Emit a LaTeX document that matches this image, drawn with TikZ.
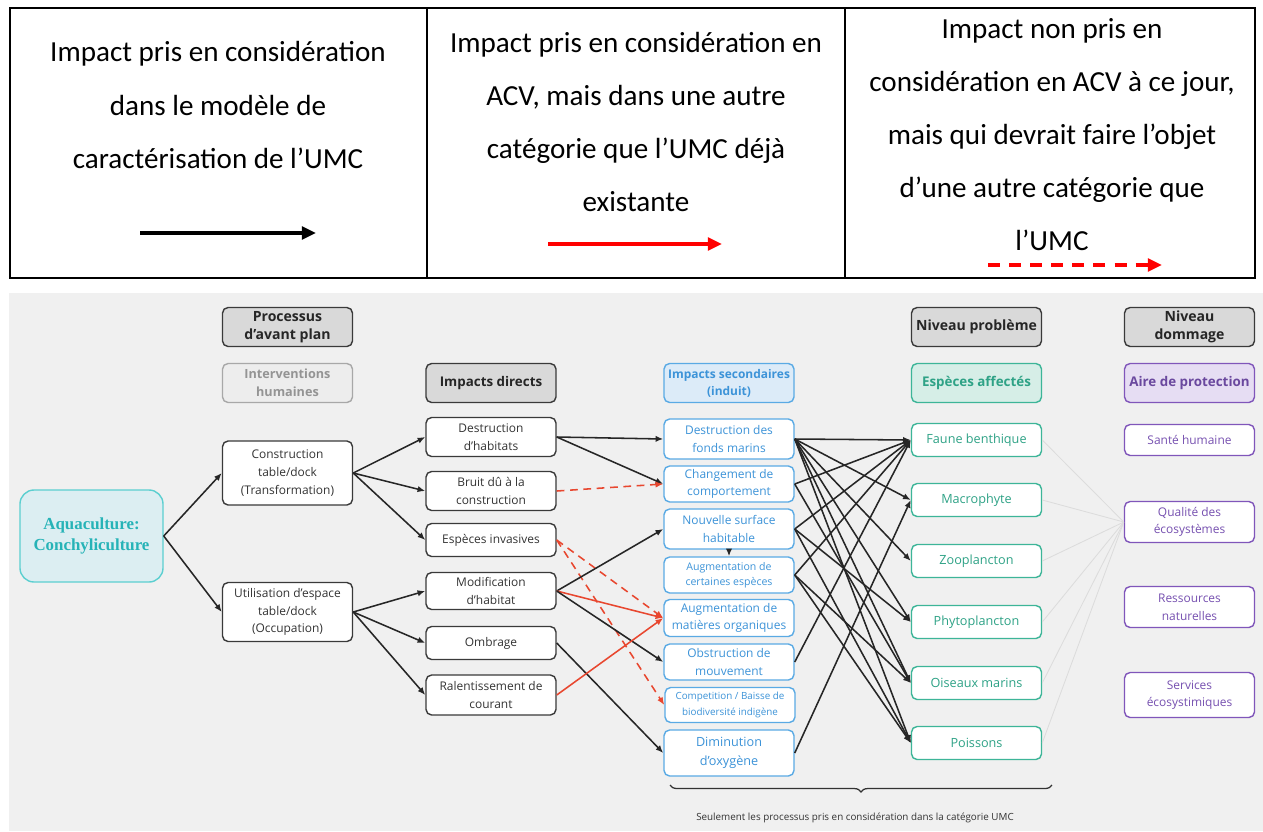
\documentclass[tikz,border=0pt]{standalone}
\usepackage{fontspec}
\setmainfont{Open Sans}
\newfontfamily\calfont{Carlito}
\newfontfamily\aquafont{Liberation Serif}
\usetikzlibrary{decorations.pathreplacing, arrows.meta}

\definecolor{fond}{HTML}{F0F0F0}
\definecolor{grisentete}{HTML}{D9D9D9}
\definecolor{traitnoir}{HTML}{3A3A3A}
\definecolor{grisclair}{HTML}{A8A8A8}
\definecolor{bleusec}{HTML}{5AAAE4}
\definecolor{bleutxt}{HTML}{3C93D8}
\definecolor{bleufond}{HTML}{DCEBF8}
\definecolor{vertesp}{HTML}{3DB598}
\definecolor{verttxt}{HTML}{2EA286}
\definecolor{vertfond}{HTML}{D6EEE7}
\definecolor{violet}{HTML}{8056BA}
\definecolor{violettxt}{HTML}{7650B0}
\definecolor{violetfond}{HTML}{E6DDF3}
\definecolor{aquabord}{HTML}{5CCFD0}
\definecolor{aquafond}{HTML}{DCEEF2}
\definecolor{aquatxt}{HTML}{26B3B7}
\definecolor{rouge}{HTML}{E8472F}
\definecolor{lienclair}{HTML}{DCDCDC}

\begin{document}
\begin{tikzpicture}[x=0.025cm, y=-0.025cm, >={Latex[length=5.5pt,width=4.5pt]},
    boite/.style={draw, rounded corners=4pt, align=center, minimum width=3.25cm, inner sep=1pt, line width=1pt, font=\fontsize{8.5}{12.5}\selectfont},
    entete/.style={boite, fill=grisentete, draw=traitnoir, text=black!85, minimum height=0.975cm, font=\bfseries\fontsize{10}{12.5}\selectfont},
    blanc/.style={boite, fill=white, draw=traitnoir, text=black!80},
    second/.style={boite, fill=white, draw=bleusec, text=bleutxt},
    espece/.style={boite, fill=white, draw=vertesp, text=verttxt, minimum height=0.825cm, font=\fontsize{9}{12.5}\selectfont},
    protect/.style={boite, fill=white, draw=violet, text=violettxt},
    fleche/.style={->, line width=1.1pt, draw=black!85},
    rougeplein/.style={->, line width=1.1pt, draw=rouge},
    rougetir/.style={->, line width=1.1pt, draw=rouge, dash pattern=on 5.5pt off 4pt},
    legende/.style={align=center, inner sep=0pt, font=\calfont\fontsize{20.7}{37.7}\selectfont}]

\useasboundingbox (0,0) rectangle (1263,831);

% tableau de légende
\draw[line width=1.6pt] (10,8) rectangle (1255,278);
\draw[line width=1.6pt] (427,8) -- (427,278) (845,8) -- (845,278);
\node[legende] (leg1) at (218,105) {Impact pris en considération\\dans le modèle de\\caractérisation de l’UMC};
\node[legende] (leg2) at (636,122) {Impact pris en considération en\\ACV, mais dans une autre\\catégorie que l’UMC déjà\\existante};
\node[legende] (leg3) at (1052,135) {Impact non pris en\\considération en ACV à ce jour,\\mais qui devrait faire l’objet\\d’une autre catégorie que\\l’UMC};
\coordinate (n1) at (140,233); \coordinate (n2) at (316,233);
\coordinate (r1) at (548,244); \coordinate (r2) at (722,244);
\coordinate (t1) at (988,265); \coordinate (t2) at (1162,265);
\draw[-{Triangle[length=10pt,width=9pt]}, line width=2.2pt] (n1)--(n2);
\draw[-{Triangle[length=10pt,width=9pt]}, line width=2.2pt, red] (r1)--(r2);
\draw[-{Triangle[length=10pt,width=9pt]}, line width=2.2pt, red, dash pattern=on 8.5pt off 6.5pt] (t1)--(t2);

% diagramme
\fill[fond] (9,293) rectangle (1263,831);

\node[entete] (proc) at (287.5,327) {Processus\\d'avant plan};
\node[entete] (nivprob) at (976.5,327) {Niveau problème};
\node[entete] (nivdom) at (1189.5,327) {Niveau\\dommage};
\node[entete, fill=black!7, draw=grisclair, text=black!42, font=\bfseries\fontsize{9}{12.5}\selectfont] (interv) at (287.5,383) {Interventions\\humaines};
\node[entete, font=\bfseries\fontsize{9.5}{12.5}\selectfont] (impdir) at (491,383) {Impacts directs};
\node[entete, fill=bleufond, draw=bleusec, text=bleutxt, font=\bfseries\fontsize{8.5}{12}\selectfont] (impsec) at (729,383) {Impacts secondaires\\(induit)};
\node[entete, fill=vertfond, draw=vertesp, text=verttxt, font=\bfseries\fontsize{9.5}{12.5}\selectfont] (espaff) at (976.5,383) {Espèces affectés};
\node[entete, fill=violetfond, draw=violet, text=violettxt!90!black, font=\bfseries\fontsize{9.5}{12.5}\selectfont] (aire) at (1189.5,383) {Aire de protection};

\node[boite, fill=aquafond, draw=aquabord, text=aquatxt, minimum width=3.575cm, minimum height=2.3cm, rounded corners=10pt, font=\aquafont\bfseries\fontsize{12}{15}\selectfont] (aqua) at (91.5,536) {Aquaculture:\\Conchyliculture};

\node[blanc, minimum height=1.6cm] (constr) at (287.5,473) {Construction\\table/dock\\(Transformation)};
\node[blanc, minimum height=1.475cm] (util) at (287.5,612) {Utilisation d'espace\\table/dock\\(Occupation)};

\node[blanc, minimum height=0.975cm] (d1) at (491,437) {Destruction\\d'habitats};
\node[blanc, minimum height=0.975cm] (d2) at (491,491) {Bruit dû à la\\construction};
\node[blanc, minimum height=0.825cm] (d3) at (491,540) {Espèces invasives};
\node[blanc, minimum height=0.925cm] (d4) at (491,591) {Modification\\d'habitat};
\node[blanc, minimum height=0.825cm] (d5) at (491,643) {Ombrage};
\node[blanc, minimum height=1cm] (d6) at (491,695) {Ralentissement de\\courant};

\node[second, minimum height=1cm] (s1) at (729,439) {Destruction des\\fonds marins};
\node[second, minimum height=0.9cm] (s2) at (729,484) {Changement de\\comportement};
\node[second, minimum height=1cm] (s3) at (729,529) {Nouvelle surface\\habitable};
\node[second, minimum height=0.9cm, font=\fontsize{7.5}{11}\selectfont] (s4) at (729,575) {Augmentation de\\certaines espèces};
\node[second, minimum height=0.925cm] (s5) at (729,618) {Augmentation de\\matières organiques};
\node[second, minimum height=0.9cm] (s6) at (729,662) {Obstruction de\\mouvement};
\node[second, minimum height=0.875cm, font=\fontsize{7}{11}\selectfont] (s7) at (730,705) {Competition / Baisse de\\biodiversité indigène};
\node[second, minimum height=1.15cm, font=\fontsize{9}{13}\selectfont] (s8) at (729,753) {Diminution\\d'oxygène};

\node[espece] (p1) at (976.5,440) {Faune benthique};
\node[espece] (p2) at (976.5,500) {Macrophyte};
\node[espece] (p3) at (976.5,561) {Zooplancton};
\node[espece] (p4) at (976.5,622) {Phytoplancton};
\node[espece] (p5) at (976.5,683) {Oiseaux marins};
\node[espece] (p6) at (976.5,743) {Poissons};

\node[protect, minimum height=0.775cm] (sante) at (1189.5,440) {Santé humaine};
\node[protect, minimum height=1.025cm] (qualite) at (1189.5,522) {Qualité des\\écosystèmes};
\node[protect, minimum height=1.025cm] (ressources) at (1189.5,607) {Ressources\\naturelles};
\node[protect, minimum height=1.125cm] (services) at (1189.5,695) {Services\\écosystimiques};

% liens
\draw[fleche] (aqua.east)--(constr.west); \draw[fleche] (aqua.east)--(util.west);
\draw[fleche] (constr.east)--(d1.west); \draw[fleche] (constr.east)--(d2.west); \draw[fleche] (constr.east)--(d3.west);
\draw[fleche] (util.east)--(d4.west); \draw[fleche] (util.east)--(d5.west); \draw[fleche] (util.east)--(d6.west);

\draw[fleche] (d1.east)--(s1.west); \draw[fleche] (d1.east)--(s2.west);
\draw[rougetir] (d2.east)--(s2.west);
\draw[rougetir] (d3.east)--(s5.west); \draw[rougetir] (d3.east)--(s7.west);
\draw[fleche] (d4.east)--(s3.west); \draw[rougeplein] (d4.east)--(s5.west); \draw[fleche] (d4.east)--(s6.west);
\draw[fleche] (d5.east)--(s8.west);
\draw[rougeplein] (d6.east)--(s5.west);
\draw[fleche] (s3.south)--(s4.north);

\foreach \e in {p1,p2,p3,p4,p5,p6} \draw[fleche] (s1.east)--(\e.west);
\foreach \e in {p1,p5} \draw[fleche] (s2.east)--(\e.west);
\foreach \e in {p1,p4,p6} \draw[fleche] (s3.east)--(\e.west);
\foreach \e in {p1,p5,p6} \draw[fleche] (s4.east)--(\e.west);
\draw[fleche] (s6.east)--(p1.west); \draw[fleche] (s8.east)--(p2.west);

\foreach \e in {p1,p2,p3,p4,p5,p6} \draw[lienclair, line width=0.6pt] (\e.east)--(qualite.west);

% accolade
\coordinate (accg) at (670,785); \coordinate (accd) at (1052,785);
\draw[decorate, decoration={brace, mirror, amplitude=5pt}, line width=0.9pt, black!80] (accg)--(accd);
\node[font=\fontsize{7}{9}\selectfont, text=black!80] (note) at (855,818) {Seulement les processus pris en considération dans la catégorie UMC};
\end{tikzpicture}
\end{document}
